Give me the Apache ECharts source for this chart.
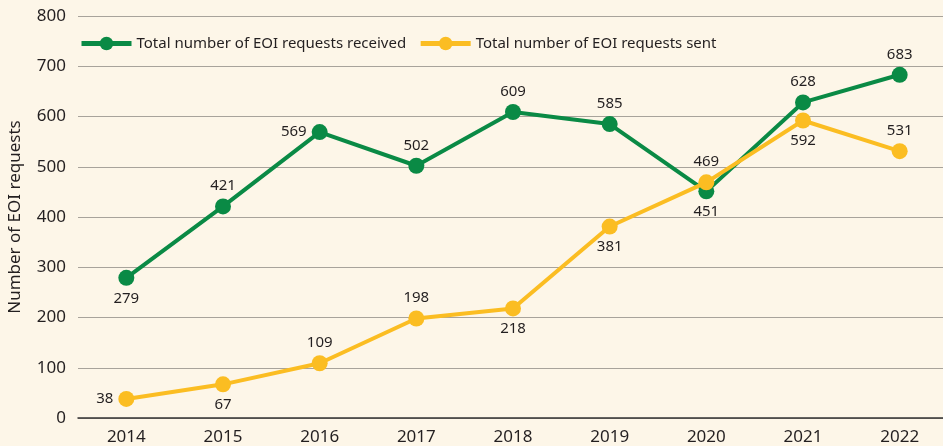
<!DOCTYPE html>
<html>
<head>
<meta charset="utf-8">
<script src="https://cdn.jsdelivr.net/npm/echarts@6/dist/echarts.min.js"></script>
<style>
  html, body { margin: 0; padding: 0; background: #fdf6e8; }
  #chart { width: 943px; height: 446px; }
</style>
</head>
<body>
<div id="chart"></div>
<script>
// data
var years = ['2014', '2015', '2016', '2017', '2018', '2019', '2020', '2021', '2022']
var received = [279, 421, 569, 502, 609, 585, 451, 628, 683]
var sent = [38, 67, 109, 198, 218, 381, 469, 592, 531]

// where each value label sits relative to its point
var receivedLabelPos = ['bottom', 'top', 'left', 'top', 'top', 'top', 'bottom', 'top', 'top']
var sentLabelPos = ['left', 'bottom', 'top', 'top', 'bottom', 'bottom', 'top', 'bottom', 'top']

var green = '#0a8a45'
var yellow = '#fbbd22'
var textColor = '#231f20'
var font = 'Noto Sans'

function withLabels(values, positions) {
    return values.map(function (v, i) {
        return { value: v, label: { position: positions[i] } }
    })
}

var myChart = echarts.init(document.getElementById('chart'))
var option = {
    backgroundColor: '#fdf6e8',
    textStyle: { fontFamily: font, color: textColor },
    grid: { left: 78, right: -5, top: 16, bottom: 28, outerBoundsMode: 'none', containLabel: false },
    legend: {
        left: 74,
        top: 31,
        itemWidth: 50,
        itemHeight: 17,
        itemGap: 12,
        lineStyle: { width: 5 },
        textStyle: { fontSize: 15, color: textColor, fontFamily: font },
        data: ['Total number of EOI requests received', 'Total number of EOI requests sent']
    },
    xAxis: {
        type: 'category',
        data: years,
        boundaryGap: true,
        axisLine: { lineStyle: { color: '#333', width: 1.5 } },
        axisTick: { show: false },
        axisLabel: { fontSize: 17, color: textColor, margin: 11 }
    },
    yAxis: {
        type: 'value',
        min: 0,
        max: 800,
        interval: 100,
        name: 'Number of EOI requests',
        nameLocation: 'middle',
        nameGap: 54,
        nameTextStyle: { fontSize: 17, color: textColor },
        axisLine: { show: false },
        axisTick: { show: false },
        axisLabel: { fontSize: 17, color: textColor, margin: 12 },
        splitLine: { lineStyle: { color: '#a8a39b', width: 1 } }
    },
    series: [{
        name: 'Total number of EOI requests received',
        type: 'line',
        data: withLabels(received, receivedLabelPos),
        symbol: 'circle',
        symbolSize: 16,
        lineStyle: { width: 4, color: green },
        itemStyle: { color: green },
        label: { show: true, fontSize: 15, color: textColor, distance: 5 },
        z: 2
    }, {
        name: 'Total number of EOI requests sent',
        type: 'line',
        data: withLabels(sent, sentLabelPos),
        symbol: 'circle',
        symbolSize: 16,
        lineStyle: { width: 4, color: yellow },
        itemStyle: { color: yellow },
        label: { show: true, fontSize: 15, color: textColor, distance: 5 },
        z: 3
    }]
}
myChart.setOption(option)
</script>
</body>
</html>
